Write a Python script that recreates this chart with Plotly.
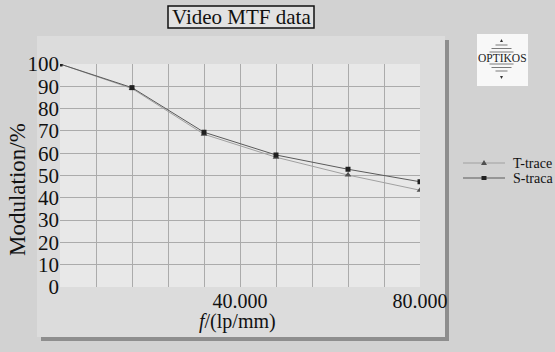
import plotly.graph_objects as go

# ---- data ----
freq = [0, 16, 32, 48, 64, 80]
t_trace = [100, 89.0, 68.5, 58.2, 50.2, 43.4]
s_trace = [100, 89.4, 69.4, 59.2, 52.8, 47.2]
x_grid = [0, 8, 16, 24, 32, 40, 48, 56, 64, 72, 80]
x_labels = ["", "", "", "", "", "40.000", "", "", "", "", "80.000"]
y_ticks = [0, 10, 20, 30, 40, 50, 60, 70, 80, 90, 100]
series_names = ["T-trace", "S-traca"]

W, H = 555, 352
L, R, T, B = 60, 420, 64, 287  # plot area in pixels


def px(x):
    return (x - L) / (R - L)


def py(y):
    return (B - y) / (B - T)


SERIF = "Liberation Serif, Times New Roman, serif"
T_LINE, S_LINE = "#a0a0a0", "#5a5a5a"
T_MARK, S_MARK = "#505050", "#202020"

fig = go.Figure()
fig.add_trace(go.Scatter(
    x=freq, y=t_trace, name=series_names[0], mode="lines+markers",
    line=dict(color=T_LINE, width=1),
    marker=dict(symbol="triangle-up", size=6, color=T_MARK),
))
fig.add_trace(go.Scatter(
    x=freq, y=s_trace, name=series_names[1], mode="lines+markers",
    line=dict(color=S_LINE, width=1),
    marker=dict(symbol="square", size=5, color=S_MARK),
))

shapes = [
    # panel shadow
    dict(type="rect", xref="paper", yref="paper", layer="below",
         x0=px(41), x1=px(449), y0=py(341), y1=py(40),
         fillcolor="#8e8e8e", line=dict(width=0)),
    # panel
    dict(type="rect", xref="paper", yref="paper", layer="below",
         x0=px(37), x1=px(445), y0=py(337), y1=py(36),
         fillcolor="#dcdcdc", line=dict(width=0)),
    # plot area
    dict(type="rect", xref="paper", yref="paper", layer="below",
         x0=0, x1=1, y0=0, y1=1,
         fillcolor="#e8e8e8", line=dict(width=0)),
    # title box
    dict(type="rect", xref="paper", yref="paper", layer="below",
         x0=px(168), x1=px(314), y0=py(28), y1=py(6),
         fillcolor="#e2e2e2", line=dict(color="#111111", width=1.5)),
    # logo box
    dict(type="rect", xref="paper", yref="paper", layer="below",
         x0=px(477), x1=px(528), y0=py(86), y1=py(34),
         fillcolor="#f8f8f8", line=dict(width=0)),
    # logo triangles
    dict(type="path", xref="paper", yref="paper",
         path=f"M {px(500)},{py(42)} L {px(503)},{py(42)} L {px(501.5)},{py(39)} Z",
         fillcolor="#333333", line=dict(width=0)),
    dict(type="path", xref="paper", yref="paper",
         path=f"M {px(500)},{py(76)} L {px(503)},{py(76)} L {px(501.5)},{py(79)} Z",
         fillcolor="#333333", line=dict(width=0)),
]
# logo stripes (diamond-like stack)
for yy, half in [(45, 6), (48.5, 10), (52, 12), (64, 12), (67.5, 10), (71, 6)]:
    shapes.append(dict(type="line", xref="paper", yref="paper",
                       x0=px(501.5 - half), x1=px(501.5 + half), y0=py(yy), y1=py(yy),
                       line=dict(color="#7a7a7a", width=1)))

# hand-drawn legend (line segment + marker + label)
leg_rows = [(163, T_LINE, T_MARK, "tri"), (178, S_LINE, S_MARK, "sq")]
for yy, lc, mc, kind in leg_rows:
    shapes.append(dict(type="line", xref="paper", yref="paper",
                       x0=px(463), x1=px(505), y0=py(yy), y1=py(yy),
                       line=dict(color=lc, width=1)))
    if kind == "tri":
        shapes.append(dict(type="path", xref="paper", yref="paper",
                           path=f"M {px(481)},{py(yy + 2)} L {px(487)},{py(yy + 2)} L {px(484)},{py(yy - 3)} Z",
                           fillcolor=mc, line=dict(width=0)))
    else:
        shapes.append(dict(type="rect", xref="paper", yref="paper",
                           x0=px(481.5), x1=px(486.5), y0=py(yy + 2), y1=py(yy - 2),
                           fillcolor=mc, line=dict(width=0)))

C = dict(xanchor="center", yanchor="middle", showarrow=False,
         xref="paper", yref="paper")
annotations = [
    dict(text="Video MTF data", x=px(241), y=py(17),
         font=dict(family=SERIF, size=21, color="#111111"), **C),
    dict(text="OPTIKOS", x=px(502.5), y=py(58),
         font=dict(family=SERIF, size=11.5, color="#222222"), **C),
    dict(text="<i>f</i>/(lp/mm)", x=px(237), y=py(321),
         font=dict(family=SERIF, size=20, color="#111111"), **C),
    dict(text="Modulation/%", x=px(17), y=py(190), textangle=-90,
         font=dict(family=SERIF, size=23, color="#111111"), **C),
]
for (yy, _, _, _), name in zip(leg_rows, series_names):
    annotations.append(dict(text=name, x=px(511), y=py(yy), xanchor="left",
                            yanchor="middle", showarrow=False,
                            xref="paper", yref="paper",
                            font=dict(family=SERIF, size=14, color="#111111")))

fig.update_layout(
    width=W, height=H,
    margin=dict(l=L, r=W - R, t=T, b=H - B, pad=0),
    paper_bgcolor="#d2d2d2",
    plot_bgcolor="rgba(0,0,0,0)",
    shapes=shapes,
    annotations=annotations,
    showlegend=False,
    xaxis=dict(range=[0, 80], tickvals=x_grid, ticktext=x_labels,
               showgrid=True, gridcolor="#ababab", gridwidth=1,
               zeroline=False, showline=False, ticks="",
               tickfont=dict(family=SERIF, size=20, color="#111111"),
               fixedrange=True),
    yaxis=dict(range=[0, 100], tickvals=y_ticks,
               showgrid=True, gridcolor="#ababab", gridwidth=1,
               zeroline=False, showline=False, ticks="",
               tickfont=dict(family=SERIF, size=21, color="#111111"),
               fixedrange=True),
)

fig.write_html("out.html")
